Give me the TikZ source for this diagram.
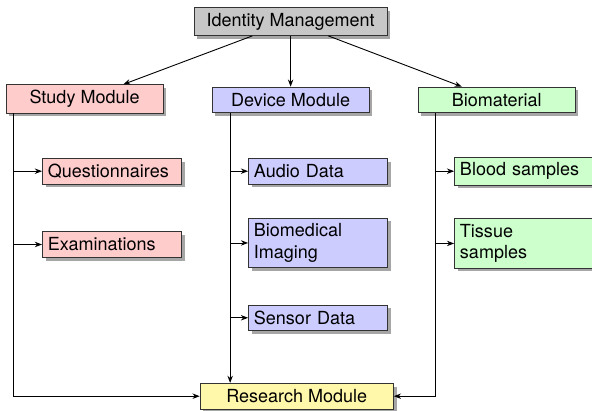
\documentclass[tikz,border=0pt]{standalone}
\usepackage{fontspec}
\setmainfont{TeX Gyre Heros}
\usetikzlibrary{positioning,calc,arrows.meta,shadows}
\definecolor{resyellow}{RGB}{255,247,170}

\begin{document}
\begin{tikzpicture}[
    >={Stealth[length=4pt,width=3pt]},
    line width=0.5pt,
    box/.style={draw=black!80, fill=#1, minimum height=0.5cm, inner sep=3pt,
        drop shadow={shadow xshift=1.8pt, shadow yshift=-1.8pt, fill=black!35, opacity=1}},
    mainbox/.style={box=#1, minimum width=3.06cm, align=center},
    subbox/.style={box=#1, anchor=west, text width=2.5cm, align=left},
]
    \useasboundingbox (0,0) rectangle (11.55,-8.0);

    % top row
    \node[mainbox=black!22, minimum width=3.77cm] (idm) at (5.67,-0.42) {Identity Management};
    \node[mainbox=red!20] (study) at (1.65,-1.93) {Study Module};
    \node[mainbox=blue!20] (device) at (5.67,-1.95) {Device Module};
    \node[mainbox=green!20] (bio) at (9.69,-1.95) {Biomaterial};

    % study branch
    \node[subbox=red!20] (quest) at (0.82,-3.34) {Questionnaires};
    \node[subbox=red!20] (exam) at (0.82,-4.77) {Examinations};

    % device branch
    \node[subbox=blue!20] (audio) at (4.84,-3.34) {Audio Data};
    \node[subbox=blue!20] (imaging) at (4.84,-4.74) {Biomedical\\Imaging};
    \node[subbox=blue!20] (sensor) at (4.84,-6.20) {Sensor Data};

    % biomaterial branch
    \node[subbox=green!20] (blood) at (8.86,-3.34) {Blood samples};
    \node[subbox=green!20] (tissue) at (8.86,-4.75) {Tissue\\samples};

    \node[mainbox=resyellow, minimum width=3.77cm] (research) at (5.79,-7.73) {Research Module};

    % trunks
    \coordinate (st) at (0.27,0);
    \coordinate (dt) at (4.49,0);
    \coordinate (bt) at (8.49,0);

    \draw[->] (idm) -- (study);
    \draw[->] (idm) -- (device);
    \draw[->] (idm) -- (bio);

    \draw[->] (study.south -| st) |- (research.west);
    \draw[->] (device.south -| dt) -- (research.north -| dt);
    \draw[->] (bio.south -| bt) |- (research.east);

    \draw[->] (st |- quest) -- (quest.west);
    \draw[->] (st |- exam) -- (exam.west);
    \draw[->] (dt |- audio) -- (audio.west);
    \draw[->] (dt |- imaging) -- (imaging.west);
    \draw[->] (dt |- sensor) -- (sensor.west);
    \draw[->] (bt |- blood) -- (blood.west);
    \draw[->] (bt |- tissue) -- (tissue.west);
\end{tikzpicture}
\end{document}
